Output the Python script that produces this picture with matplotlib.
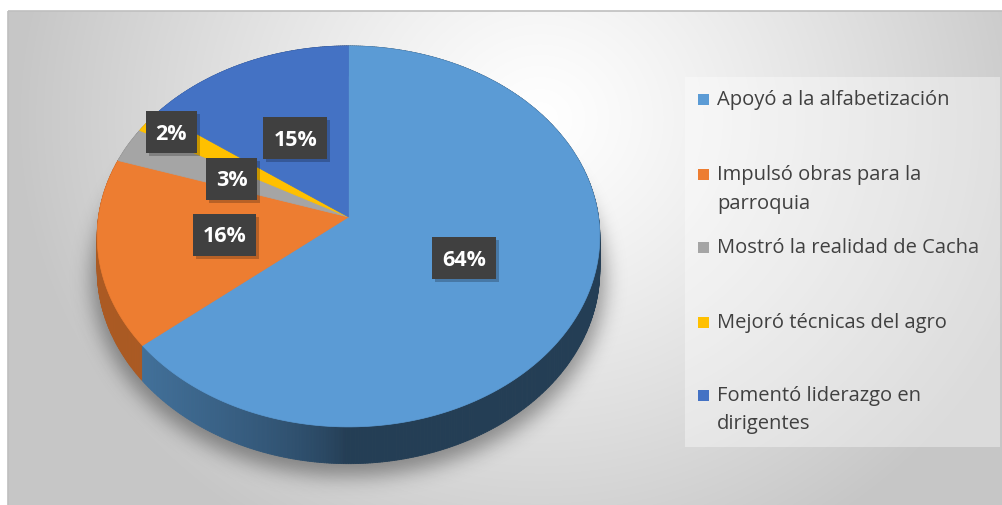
import numpy as np
import matplotlib.pyplot as plt
from matplotlib.collections import PolyCollection
from matplotlib.patches import Rectangle
from matplotlib.path import Path
from matplotlib.colors import to_rgb

# datos
categorias = ['Apoyó a la alfabetización', 'Impulsó obras para la\nparroquia',
              'Mostró la realidad de Cacha', 'Mejoró técnicas del agro',
              'Fomentó liderazgo en\ndirigentes']
porcentajes = [64, 16, 3, 2, 15]
colores = ['#5B9BD5', '#ED7D31', '#A5A5A5', '#FFC000', '#4472C4']

# layout (pixels)
W, H = 1003, 506
cx, cy = 348.5, 218.0        # centro del pastel
a, b, k = 250.0, 188.5, 0.102  # semiejes y perspectiva
alto = 33.0                   # grosor del pastel
radio_etiq = [0.50, 0.50, 0.52, 0.88, 0.49]
leyenda_y = [100, 175, 248, 323, 396]

plt.rcParams['font.family'] = ['Open Sans', 'DejaVu Sans']

fig = plt.figure(figsize=(W / 100, H / 100), dpi=100)
ax = fig.add_axes([0, 0, 1, 1])
ax.set_xlim(0, W)
ax.set_ylim(H, 0)
ax.axis('off')

# fondo con degradado radial
x0, y0 = 8, 12
xx, yy = np.meshgrid(np.arange(x0, W) + 0.5, np.arange(y0, H) + 0.5)
d = np.sqrt(((xx - 540) / 520) ** 2 + ((yy - 120) / 480) ** 2)
g = 1 - 0.22 * np.clip(d, 0, 1) ** 1.2
ax.imshow(np.dstack([g, g, g]), extent=(x0, W, H, y0), origin='upper',
          interpolation='bilinear', zorder=0)
ax.add_patch(Rectangle((x0, y0), W - x0 + 2, H - y0 + 2, fill=False,
                       ec='#bfbfbf', lw=1.2, zorder=1))


def proj(th, r=1.0, dz=0.0):
    u = r * np.sin(np.radians(th))
    v = -r * np.cos(np.radians(th))
    s = 1 / (1 - k * v)
    return cx + a * u * s, cy + (b * v + dz) * s


# sombra suave bajo el pastel
t = np.linspace(0, 360, 361)
sx, sy = proj(t, 1.02, alto)
sombra_path = Path(np.column_stack([sx, sy + 8]))
gx, gy = np.meshgrid(np.arange(W) + 0.5, np.arange(H) + 0.5)
mask = sombra_path.contains_points(np.column_stack([gx.ravel(), gy.ravel()]))
mask = mask.reshape(H, W).astype(float)
sig = 10
ker = np.exp(-0.5 * (np.arange(-35, 36) / sig) ** 2)
ker /= ker.sum()
mask = np.apply_along_axis(lambda m: np.convolve(m, ker, mode='same'), 1, mask)
mask = np.apply_along_axis(lambda m: np.convolve(m, ker, mode='same'), 0, mask)
rgba = np.zeros((H, W, 4))
rgba[..., 3] = 0.38 * mask
ax.imshow(rgba, extent=(0, W, H, 0), origin='upper', zorder=2)

# angulos de cada porcion
total = sum(porcentajes)
lims = np.concatenate([[0], np.cumsum(porcentajes)]) / total * 360

# costado
quads, cols, orden = [], [], []
for i, col in enumerate(colores):
    th = np.arange(lims[i], lims[i + 1], 0.5)
    th = np.append(th, lims[i + 1])
    base = np.array(to_rgb(col))
    for t1, t2 in zip(th[:-1], th[1:]):
        xa, ya = proj(t1)
        xb, yb = proj(t2)
        xc, yc = proj(t2, 1.0, alto)
        xd, yd = proj(t1, 1.0, alto)
        xm = (xa + xb) / 2
        f = 0.40 + 0.32 * np.clip((345 - xm) / 200, 0, 1) ** 0.7
        quads.append([(xa, ya), (xb, yb), (xc, yc), (xd, yd)])
        cols.append(base * f)
        orden.append(-np.cos(np.radians((t1 + t2) / 2)))
idx = np.argsort(orden)
pc = PolyCollection([quads[j] for j in idx], facecolors=[cols[j] for j in idx],
                    edgecolors=[cols[j] for j in idx], linewidths=0.6, zorder=3)
ax.add_collection(pc)

# cara superior
for i, col in enumerate(colores):
    th = np.linspace(lims[i], lims[i + 1], 200)
    px, py = proj(th)
    ax.fill(np.concatenate([[cx], px]), np.concatenate([[cy], py]),
            fc=col, ec=col, lw=0.5, zorder=4)

# etiquetas de datos
etiquetas = []
for i, p in enumerate(porcentajes):
    mid = (lims[i] + lims[i + 1]) / 2
    lx, ly = proj(mid, radio_etiq[i])
    tx = ax.text(lx, ly + 1, '{}%'.format(p), fontsize=15.5, fontweight='bold',
                 color='white', ha='center', va='center', zorder=7)
    etiquetas.append((tx, lx, ly))

fig.canvas.draw()
for tx, lx, ly in etiquetas:
    ancho = tx.get_window_extent().width + 20
    alto_caja = 42
    ax.add_patch(Rectangle((lx - ancho / 2 + 3, ly - alto_caja / 2 + 3), ancho, alto_caja,
                           fc='black', ec='none', alpha=0.22, zorder=5))
    ax.add_patch(Rectangle((lx - ancho / 2, ly - alto_caja / 2), ancho, alto_caja,
                           fc='#404040', ec='none', zorder=6))

# leyenda
ax.add_patch(Rectangle((685, 78), 315, 370, fc='white', ec='none', alpha=0.38, zorder=5))
for i, (cat, col) in enumerate(zip(categorias, colores)):
    yl = leyenda_y[i]
    ax.add_patch(Rectangle((698, yl - 5), 11, 11, fc=col, ec='none', zorder=6))
    for j, linea in enumerate(cat.split('\n')):
        ax.text(717, yl + j * 28.5, linea, fontsize=14.5, color='#404040',
                ha='left', va='center', zorder=6)

fig.savefig('out.png', dpi=100)
